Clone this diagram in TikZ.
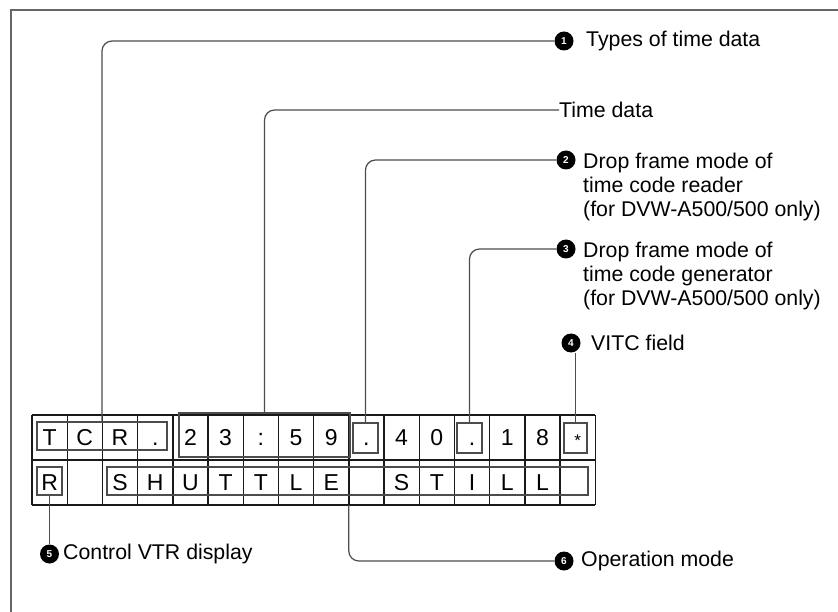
\documentclass[tikz,border=0pt]{standalone}
\usepackage{fontspec}
\setmainfont{Liberation Sans}
\newcommand{\markernum}[3]{%
  \fill[black] #2 circle (9.5);
  \node[num] (#1) at #2 {#3};}
\begin{document}
\begin{tikzpicture}[x=1pt,y=-1pt,
  frame/.style={draw=black!60, line width=1.4pt},
  gridline/.style={draw=black!90, line width=1.4pt},
  ibox/.style={draw=black!70, line width=1.2pt, inner sep=0pt, rectangle},
  conn/.style={draw=black!70, line width=1.2pt, rounded corners=10pt},
  num/.style={circle, inner sep=0pt, minimum size=19pt, text=white,
              font=\fontsize{10}{10}\selectfont\bfseries},
  lbl/.style={inner sep=0pt, align=left, font=\fontsize{21.3}{24}\selectfont},
  ch/.style={inner sep=0pt, anchor=base, font=\fontsize{23}{23}\selectfont}
]
\useasboundingbox (0,0) rectangle (838,612);
% outer frame
\draw[frame] (11,612) -- (11,10) -- (838,10);

% display grid
\foreach \i in {0,...,16} {\draw[gridline] ({32+35.2*\i},415) -- ({32+35.2*\i},505);}
\foreach \y in {415,460,505} {\draw[gridline] (32,\y) -- (595.2,\y);}

% top row characters
\foreach \c [count=\k from 0] in {T,C,R,.,2,3,:,5,9,.,4,0,.,1,8} {
  \node[ch] (t\k) at ({49.6+35.2*\k},445) {\c};
}
\node[ch, anchor=center, font=\fontsize{17}{17}\selectfont] (t15) at (577.6,441) {*};
% bottom row characters
\foreach \c/\k in {R/0,S/2,H/3,U/4,T/5,T/6,L/7,E/8,S/10,T/11,I/12,L/13,L/14} {
  \node[ch] (b\k) at ({49.6+35.2*\k},490) {\c};
}

% inner boxes
\node[ibox, minimum width=130pt, minimum height=28pt] (tcr) at (102,436) {};
\node[ibox, minimum width=171pt, minimum height=44pt] (tdb) at (264.5,435) {};
\node[ibox, minimum width=25pt, minimum height=30pt] (d9) at (365.5,438) {};
\node[ibox, minimum width=25pt, minimum height=30pt] (d12) at (469.5,438) {};
\node[ibox, minimum width=23pt, minimum height=30pt] (st) at (575.5,438) {};
\node[ibox, minimum width=25pt, minimum height=28pt] (rb) at (49.5,481) {};
\node[ibox, minimum width=481pt, minimum height=28pt] (sh) at (347.5,481) {};
\coordinate (g6) at (348.8,505);

% numbered markers and labels
\markernum{c1}{(564,41)}{1}
\node[lbl, anchor=west] (l1) at (586,41) {Types of time data};
\node[lbl, anchor=west] (ltd) at (559,110) {Time data};
\markernum{c2}{(566,160)}{2}
\node[lbl, anchor=north west] (l2) at (583,152.5) {Drop frame mode of\\time code reader\\(for DVW-A500/500 only)};
\markernum{c3}{(566,249)}{3}
\node[lbl, anchor=north west] (l3) at (583,241.5) {Drop frame mode of\\time code generator\\(for DVW-A500/500 only)};
\markernum{c4}{(571,343)}{4}
\node[lbl, anchor=west] (l4) at (591,343) {VITC field};
\markernum{c5}{(49.5,554)}{5}
\node[lbl, anchor=west] (l5) at (63,554) {Control VTR display};
\markernum{c6}{(564,561)}{6}
\node[lbl, anchor=west] (l6) at (581,561) {Operation mode};

% connectors
\draw[conn] (tcr.north) |- (c1);
\draw[conn] (tdb.north) |- (ltd.west);
\draw[conn] (d9.north) |- (c2);
\draw[conn] (d12.north) |- (c3);
\draw[conn] (st.north) -- (st.north |- c4.south);
\draw[conn] (rb.south) -- (c5.north);
\draw[conn] (g6) |- (c6);
\end{tikzpicture}
\end{document}
